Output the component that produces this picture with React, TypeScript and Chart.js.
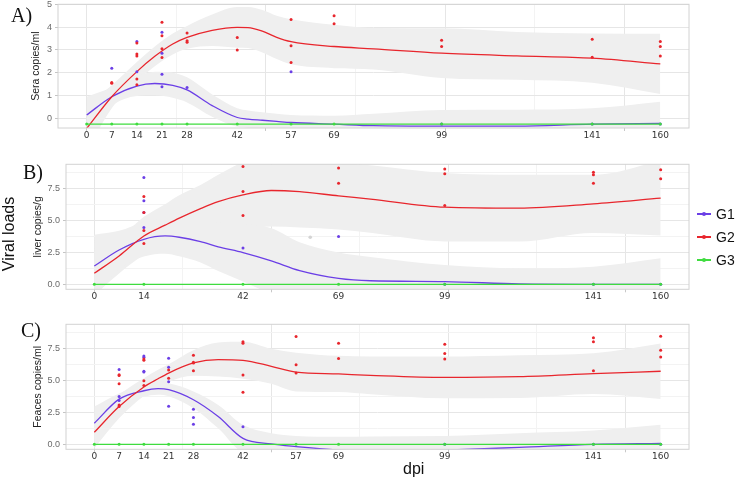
import React, { useEffect, useRef } from 'react';
import { Chart, registerables } from 'chart.js';

Chart.register(...registerables);

// ---------- shared axis values ----------
const xLabelsAC = [0, 7, 14, 21, 28, 42, 57, 69, 99, 141, 160];
const xLabelsB = [0, 14, 42, 69, 99, 141, 160];
const xGridMajor = [0, 50, 100, 150];
const xGridMinor = [25, 75, 125];
const yMajorA = [0, 1, 2, 3, 4, 5];
const yMinorA = [0.5, 1.5, 2.5, 3.5, 4.5];
const yMajorBC = [0, 2.5, 5, 7.5];
const yMinorBC = [1.25, 3.75, 6.25, 8.75];

const seriesNames = ['G1', 'G2', 'G3'];
const seriesColors = ['#6b3fe6', '#e8262d', '#3fdc3f'];

// ---------- panel A : Sera ----------
const lineXA = [0, 7, 14, 19, 24, 28, 35, 42, 45, 49, 53, 57, 69, 80, 99, 120, 141, 160];
const g1LineA = [0.15, 0.95, 1.42, 1.53, 1.45, 1.25, 0.56, 0.04, -0.03, -0.08, -0.13, -0.18, -0.25, -0.32, -0.34, -0.34, -0.25, -0.22];
const g1UpA = [0.95, 1.35, 1.86, 2.05, 2.0, 1.8, 1.05, 0.45, 0.35, 0.27, 0.2, 0.15, 0.12, 0.2, 0.37, 0.38, 0.44, 0.73];
const g1LoA = [-0.65, 0.55, 0.98, 1.01, 0.9, 0.7, 0.07, -0.37, -0.41, -0.43, -0.46, -0.51, -0.62, -0.84, -1.05, -1.06, -0.94, -1.17];
const g2LineA = [-0.44, 0.95, 2.05, 2.72, 3.26, 3.55, 3.86, 3.99, 3.98, 3.82, 3.55, 3.36, 3.15, 3.05, 2.86, 2.74, 2.64, 2.39];
const g2UpA = [0.55, 1.45, 2.47, 3.15, 3.72, 4.05, 4.55, 4.88, 4.88, 4.75, 4.5, 4.35, 4.1, 3.96, 3.95, 3.79, 3.72, 3.71];
const g2LoA = [-1.43, 0.45, 1.63, 2.29, 2.8, 3.05, 3.17, 3.1, 3.08, 2.89, 2.6, 2.37, 2.2, 2.14, 1.77, 1.69, 1.56, 1.07];
const g3LineX = [0, 160];
const g3LineA = [-0.25, -0.25];
const g1PtsA: [number, number[]][] = [[7, [2.2]], [14, [3.37, 2.05]], [21, [3.77, 2.86, 1.94, 1.39]], [28, [1.36]], [57, [2.05]], [99, [-0.25]], [141, [-0.25]], [160, [-0.25]]];
const g2PtsA: [number, number[]][] = [[7, [1.54, 1.57]], [14, [3.3, 2.82, 2.74, 1.73, 1.47]], [21, [4.21, 3.62, 3.05, 2.67]], [28, [3.74, 3.4, 3.34]], [42, [3.55, 3.0]], [57, [4.33, 3.18, 2.45]], [69, [4.5, 4.15]], [99, [3.42, 3.15]], [141, [3.47, 2.68]], [160, [3.37, 3.15, 2.74]]];
const g3PtsA: [number, number[]][] = [[0, [-0.25]], [7, [-0.25]], [14, [-0.25]], [21, [-0.25]], [28, [-0.25]], [42, [-0.25]], [57, [-0.25]], [69, [-0.25]], [99, [-0.25]], [141, [-0.25]], [160, [-0.25]]];

// ---------- panel B : liver ----------
const lineXB = [0, 7, 14, 20, 24, 30, 35, 42, 50, 58, 69, 78, 99, 120, 141, 160];
const g1LineB = [1.44, 2.7, 3.54, 3.8, 3.7, 3.36, 2.95, 2.49, 1.84, 1.08, 0.47, 0.28, 0.22, 0.03, 0, 0];
const g1UpB = [3.9, 4.2, 4.9, 5.2, 5.2, 5.0, 4.85, 4.75, 4.4, 3.3, 2.5, 2.15, 1.52, 1.26, 1.39, 2.05];
const g1LoB = [-1.02, 1.2, 2.18, 2.4, 2.2, 1.72, 1.05, 0.23, -0.72, -1.14, -1.56, -1.59, -1.08, -1.2, -1.39, -2.05];
const g2LineB = [0.87, 2.23, 3.8, 4.65, 5.2, 5.95, 6.5, 7.03, 7.37, 7.28, 6.95, 6.7, 6.06, 5.98, 6.32, 6.77];
const g2UpB = [2.6, 3.6, 5.3, 6.3, 7.0, 7.8, 8.6, 9.6, 10.2, 10.1, 9.6, 9.35, 8.75, 8.6, 8.6, 9.7];
const g2LoB = [-0.86, 0.86, 2.3, 3.0, 3.4, 4.1, 4.4, 4.46, 4.54, 4.46, 4.3, 4.05, 3.37, 3.36, 4.04, 3.84];
const g3LineBC = [0, 0];
const g1PtsB: [number, number[]][] = [[14, [8.39, 6.56, 5.64, 4.46]], [42, [2.86]], [69, [3.75]], [99, [0]], [141, [0]], [160, [0]]];
const g2PtsB: [number, number[]][] = [[14, [6.9, 5.64, 4.22, 3.2]], [42, [9.26, 7.29, 5.4]], [69, [9.13, 7.95]], [99, [9.07, 8.68, 6.19]], [141, [8.81, 8.6, 7.95]], [160, [9.0, 8.29]]];
const g3PtsB: [number, number[]][] = [[0, [0]], [14, [0]], [42, [0]], [69, [0]], [99, [0]], [141, [0]], [160, [0]]];
const otherPtsB: [number, number[]][] = [[61, [3.7]]];

// ---------- panel C : feaces ----------
const lineXC = [0, 7, 14, 18, 21, 28, 35, 42, 50, 57, 69, 78, 99, 120, 141, 160];
const g1LineC = [1.66, 3.55, 4.21, 4.37, 4.29, 3.5, 2.18, 0.47, 0.03, -0.18, -0.45, -0.55, -0.45, -0.24, 0, 0.08];
const g1UpC = [2.97, 4.0, 4.68, 4.85, 4.8, 4.16, 3.1, 1.53, 0.87, 0.66, 0.6, 0.62, 0.66, 0.87, 1.08, 1.53];
const g1LoC = [0.35, 3.1, 3.74, 3.89, 3.78, 2.84, 1.26, -0.59, -0.81, -1.02, -1.5, -1.72, -1.56, -1.35, -1.08, -1.37];
const g2LineC = [0.95, 2.97, 4.5, 5.15, 5.6, 6.39, 6.66, 6.6, 6.13, 5.68, 5.53, 5.42, 5.26, 5.32, 5.55, 5.74];
const g2UpC = [2.2, 3.9, 5.2, 5.85, 6.3, 7.4, 8.0, 8.05, 7.5, 7.2, 6.95, 6.9, 6.9, 7.0, 7.15, 7.92];
const g2LoC = [-0.3, 2.04, 3.8, 4.45, 4.9, 5.38, 5.32, 5.15, 4.76, 4.16, 4.11, 3.94, 3.62, 3.64, 3.95, 3.56];
const g1PtsC: [number, number[]][] = [[7, [5.87, 3.76, 3.45]], [14, [6.94, 6.84, 5.75, 5.68]], [21, [6.76, 6.05, 4.92, 3.0]], [28, [2.76, 2.1, 1.58]], [42, [1.39]], [99, [0]], [141, [0]], [160, [0]]];
const g2PtsC: [number, number[]][] = [[7, [5.47, 5.4, 4.76, 3.1, 2.97]], [14, [6.7, 6.6, 5.0, 4.62]], [21, [5.84, 5.2]], [28, [7.0, 6.45, 6.38, 5.79]], [42, [8.05, 7.95, 5.45, 4.1]], [57, [8.47, 6.26, 5.6]], [69, [7.95, 6.74]], [99, [7.87, 7.13, 6.71]], [141, [8.37, 8.05, 5.79]], [160, [8.5, 7.39, 6.87]]];
const g3PtsC: [number, number[]][] = [[0, [0]], [7, [0]], [14, [0]], [21, [0]], [28, [0]], [42, [0]], [57, [0]], [69, [0]], [99, [0]], [141, [0]], [160, [0]]];

// ---------- helpers ----------
const BAND = '#efefef';
const zip = (xs: number[], ys: number[]) => xs.map((x, i) => ({ x, y: ys[i] }));
const flat = (g: [number, number[]][]) => g.flatMap(([x, ys]) => ys.map((y) => ({ x, y })));

type Panel = {
  top: number; height: number; areaTop: number; areaBottom: number; left: number;
  yMin: number; yMax: number; yMajor: number[]; yMinor: number[]; fmt: (v: number) => string;
  xLabels: number[]; title: string; titlePad: number;
  lineX: number[]; g1: number[]; g1Up: number[]; g1Lo: number[]; g2: number[]; g2Up: number[]; g2Lo: number[];
  g3: number[]; pts: [number, number[]][][]; other?: [number, number[]][];
};

const panels: Panel[] = [
  {
    top: 0, height: 150, areaTop: 4.3, areaBottom: 128, left: 58,
    yMin: -0.42, yMax: 5.0, yMajor: yMajorA, yMinor: yMinorA, fmt: (v) => String(v),
    xLabels: xLabelsAC, title: 'Sera copies/ml', titlePad: 30,
    lineX: lineXA, g1: g1LineA, g1Up: g1UpA, g1Lo: g1LoA, g2: g2LineA, g2Up: g2UpA, g2Lo: g2LoA,
    g3: g3LineA, pts: [g1PtsA, g2PtsA, g3PtsA],
  },
  {
    top: 150, height: 160, areaTop: 14.3, areaBottom: 139.3, left: 66,
    yMin: -0.39, yMax: 9.43, yMajor: yMajorBC, yMinor: yMinorBC, fmt: (v) => v.toFixed(1),
    xLabels: xLabelsB, title: 'liver copies/g', titlePad: 32,
    lineX: lineXB, g1: g1LineB, g1Up: g1UpB, g1Lo: g1LoB, g2: g2LineB, g2Up: g2UpB, g2Lo: g2LoB,
    g3: g3LineBC, pts: [g1PtsB, g2PtsB, g3PtsB], other: otherPtsB,
  },
  {
    top: 310, height: 160, areaTop: 14.3, areaBottom: 139.3, left: 66,
    yMin: -0.39, yMax: 9.43, yMajor: yMajorBC, yMinor: yMinorBC, fmt: (v) => v.toFixed(1),
    xLabels: xLabelsAC, title: 'Feaces copies/ml', titlePad: 32,
    lineX: lineXC, g1: g1LineC, g1Up: g1UpC, g1Lo: g1LoC, g2: g2LineC, g2Up: g2UpC, g2Lo: g2LoC,
    g3: g3LineBC, pts: [g1PtsC, g2PtsC, g3PtsC],
  },
];

const borderPlugin = {
  id: 'panelBorder',
  afterDraw(chart: any) {
    const { ctx, chartArea: a } = chart;
    ctx.save();
    ctx.strokeStyle = '#d2d2d2';
    ctx.lineWidth = 1;
    ctx.strokeRect(a.left, a.top, a.right - a.left, a.bottom - a.top);
    ctx.restore();
  },
};

function buildConfig(p: Panel): any {
  const curve = { pointRadius: 0, cubicInterpolationMode: 'monotone' };
  const datasets: any[] = [
    { ...curve, label: 'G1 band', data: zip(p.lineX, p.g1Up), fill: '+1', backgroundColor: BAND, borderWidth: 0, order: 10 },
    { ...curve, label: 'G1 band low', data: zip(p.lineX, p.g1Lo), fill: false, borderWidth: 0, order: 10 },
    { ...curve, label: 'G2 band', data: zip(p.lineX, p.g2Up), fill: '+1', backgroundColor: BAND, borderWidth: 0, order: 10 },
    { ...curve, label: 'G2 band low', data: zip(p.lineX, p.g2Lo), fill: false, borderWidth: 0, order: 10 },
    { ...curve, label: 'G1', data: zip(p.lineX, p.g1), borderColor: seriesColors[0], borderWidth: 1.3, fill: false, order: 6 },
    { ...curve, label: 'G2', data: zip(p.lineX, p.g2), borderColor: seriesColors[1], borderWidth: 1.3, fill: false, order: 5 },
    { ...curve, label: 'G3', data: zip(g3LineX, p.g3), borderColor: seriesColors[2], borderWidth: 1.3, fill: false, order: 4 },
  ];
  p.pts.forEach((g, i) => {
    datasets.push({
      label: seriesNames[i] + ' pts', data: flat(g), showLine: false, pointRadius: 1.5,
      pointBackgroundColor: seriesColors[i], pointBorderWidth: 0, order: 3 - i,
    });
  });
  if (p.other) {
    datasets.push({ label: 'other', data: flat(p.other), showLine: false, pointRadius: 1.8, pointBackgroundColor: '#d4d4d4', pointBorderWidth: 0, order: 3 });
  }
  const xAll = Array.from(new Set([...p.xLabels, ...xGridMajor, ...xGridMinor])).sort((a, b) => a - b);
  const yAll = [...p.yMajor, ...p.yMinor].sort((a, b) => a - b);
  return {
    type: 'line',
    data: { datasets },
    plugins: [borderPlugin],
    options: {
      animation: false,
      responsive: false,
      devicePixelRatio: 1,
      events: [],
      layout: { padding: { left: 0, top: p.areaTop, right: 48, bottom: 0 } },
      plugins: { legend: { display: false }, tooltip: { enabled: false } },
      scales: {
        x: {
          type: 'linear', min: -8, max: 168,
          afterBuildTicks: (s: any) => { s.ticks = xAll.map((v) => ({ value: v })); },
          afterFit: (s: any) => { s.height = p.height - p.areaBottom; s.paddingLeft = 0; s.paddingRight = 0; },
          ticks: {
            autoSkip: false, maxRotation: 0, minRotation: 0, padding: -1,
            color: '#333333', font: { family: 'DejaVu Sans', size: 9 },
            callback: (v: number) => (p.xLabels.includes(v) ? String(v) : ''),
          },
          grid: {
            drawTicks: true, tickLength: 3, lineWidth: 1,
            color: (c: any) => (xGridMajor.includes(c.tick?.value) ? '#e6e6e6' : xGridMinor.includes(c.tick?.value) ? '#f3f3f3' : 'rgba(0,0,0,0)'),
            tickColor: (c: any) => (xGridMajor.includes(c.tick?.value) ? '#c8c8c8' : 'rgba(0,0,0,0)'),
          },
          border: { display: false },
        },
        y: {
          type: 'linear', min: p.yMin, max: p.yMax,
          afterBuildTicks: (s: any) => { s.ticks = yAll.map((v) => ({ value: v })); },
          afterFit: (s: any) => { s.width = p.left; s.paddingTop = 0; s.paddingBottom = 0; },
          ticks: {
            padding: 3, color: '#6a6a6a', font: { family: 'Liberation Sans', size: 9 },
            callback: (v: number) => (p.yMajor.includes(v) ? p.fmt(v) : ''),
          },
          grid: {
            drawTicks: true, tickLength: 3, lineWidth: 1,
            color: (c: any) => (p.yMajor.includes(c.tick?.value) ? '#e6e6e6' : '#f3f3f3'),
            tickColor: (c: any) => (p.yMajor.includes(c.tick?.value) ? '#c4c4c4' : 'rgba(0,0,0,0)'),
          },
          border: { display: false },
          title: {
            display: true, text: p.title, color: '#222222',
            font: { family: 'Liberation Sans', size: 10.5 },
            padding: { top: p.titlePad, bottom: 0 },
          },
        },
      },
    },
  };
}

function PanelChart({ p }: { p: Panel }) {
  const ref = useRef<HTMLCanvasElement | null>(null);
  useEffect(() => {
    if (!ref.current) return;
    const chart = new Chart(ref.current, buildConfig(p));
    return () => chart.destroy();
  }, [p]);
  return (
    <canvas
      ref={ref}
      width={737}
      height={p.height}
      style={{ position: 'absolute', left: 0, top: p.top, width: 737, height: p.height }}
    />
  );
}

const panelLabels = [
  { text: 'A)', left: 11, top: 4.5 },
  { text: 'B)', left: 23, top: 161.5 },
  { text: 'C)', left: 21, top: 319.5 },
];
const legendRows = [214, 237, 260];

export default function App() {
  useEffect(() => {
    document.body.style.margin = '0';
  }, []);
  return (
    <div style={{ position: 'relative', width: 737, height: 480, background: '#ffffff', overflow: 'hidden' }}>
      {panels.map((p, i) => (
        <PanelChart key={i} p={p} />
      ))}
      {panelLabels.map((l) => (
        <div key={l.text} style={{ position: 'absolute', left: l.left, top: l.top, fontFamily: 'Liberation Serif', fontSize: 20, lineHeight: 1, color: '#111' }}>
          {l.text}
        </div>
      ))}
      <div
        style={{
          position: 'absolute', left: 9, top: 234, transform: 'translate(-50%, -50%) rotate(-90deg)',
          fontFamily: 'Liberation Sans', fontSize: 16, lineHeight: 1, whiteSpace: 'nowrap', color: '#111',
        }}
      >
        Viral loads
      </div>
      <div style={{ position: 'absolute', left: 403, top: 461, fontFamily: 'Liberation Sans', fontSize: 16, lineHeight: 1, color: '#111' }}>
        dpi
      </div>
      {seriesNames.map((n, i) => (
        <div key={n} style={{ position: 'absolute', left: 697, top: legendRows[i] - 8, height: 16, width: 40 }}>
          <div style={{ position: 'absolute', left: 0, top: 7, width: 14, height: 2, background: seriesColors[i] }} />
          <div style={{ position: 'absolute', left: 5, top: 6, width: 4, height: 4, borderRadius: 2, background: seriesColors[i] }} />
          <div style={{ position: 'absolute', left: 19, top: 0, fontFamily: 'Liberation Sans', fontSize: 14, lineHeight: '16px', color: '#111' }}>
            {n}
          </div>
        </div>
      ))}
    </div>
  );
}
